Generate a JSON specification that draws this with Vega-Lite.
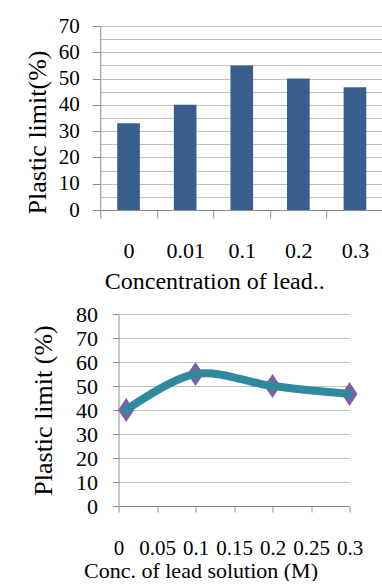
{
  "$schema": "https://vega.github.io/schema/vega-lite/v6.json",
  "background": "white",
  "padding": {"left": 24, "top": 15, "right": 0, "bottom": 0},
  "config": {
    "font": "Liberation Serif",
    "view": {"stroke": null},
    "axis": {
      "labelFont": "Liberation Serif",
      "titleFont": "Liberation Serif",
      "labelColor": "black",
      "titleColor": "black",
      "titleFontWeight": "normal",
      "domainColor": "#8c8c8c",
      "tickColor": "#8c8c8c",
      "gridColor": "#c0c0c0",
      "labelOverlap": false,
      "labelFlush": false,
      "labelBound": false
    }
  },
  "datasets": {
    "bars": [
      {"conc": "0", "pl": 33},
      {"conc": "0.01", "pl": 40},
      {"conc": "0.1", "pl": 55},
      {"conc": "0.2", "pl": 50},
      {"conc": "0.3", "pl": 46.7}
    ],
    "curve": [
      {"c": 0.01, "pl": 40},
      {"c": 0.1, "pl": 55},
      {"c": 0.2, "pl": 50},
      {"c": 0.3, "pl": 46.7}
    ]
  },
  "spacing": 10,
  "center": true,
  "vconcat": [
    {
      "width": 283,
      "height": 184,
      "data": {"name": "bars"},
      "encoding": {
        "x": {
          "field": "conc",
          "type": "nominal",
          "sort": null,
          "scale": {"paddingInner": 0, "paddingOuter": 0},
          "axis": {
            "title": "Concentration of lead..",
            "labelAngle": 0,
            "labelFontSize": 22,
            "tickBand": "extent",
            "tickSize": 8,
            "labelPadding": 22,
            "titleFontSize": 24,
            "titlePadding": 8,
            "titleX": 114,
            "grid": false
          }
        }
      },
      "layer": [
        {
          "mark": {"type": "bar", "opacity": 0, "width": {"band": 0.4}},
          "encoding": {
            "y": {
              "field": "pl",
              "type": "quantitative",
              "scale": {"domain": [0, 70], "nice": false},
              "axis": {
                "orient": "right",
                "title": null,
                "values": [5, 15, 25, 35, 45, 55, 65],
                "grid": true,
                "labels": false,
                "ticks": false,
                "domain": false
              }
            }
          }
        },
        {
          "mark": {"type": "bar", "color": "#395E8E", "width": {"band": 0.4}},
          "encoding": {
            "y": {
              "field": "pl",
              "type": "quantitative",
              "scale": {"domain": [0, 70], "nice": false},
              "axis": {
                "orient": "left",
                "title": "Plastic limit(%)",
                "values": [0, 10, 20, 30, 40, 50, 60, 70],
                "grid": true,
                "tickSize": 8,
                "labelPadding": 13,
                "labelFontSize": 21,
                "titleFontSize": 26,
                "titlePadding": 8,
                "titleY": 106
              }
            }
          }
        }
      ],
      "resolve": {"axis": {"y": "independent"}}
    },
    {
      "width": 231,
      "height": 192,
      "data": {"name": "curve"},
      "encoding": {
        "x": {
          "field": "c",
          "type": "quantitative",
          "scale": {"domain": [0, 0.3], "nice": false},
          "axis": {
            "title": "Conc. of lead solution (M)",
            "values": [0, 0.05, 0.1, 0.15, 0.2, 0.25, 0.3],
            "labelExpr": "toString(round(datum.value * 100) / 100)",
            "grid": false,
            "tickSize": 6,
            "labelPadding": 25,
            "labelFontSize": 21,
            "titleFontSize": 22,
            "titlePadding": 2,
            "titleX": 82
          }
        },
        "y": {
          "field": "pl",
          "type": "quantitative",
          "scale": {"domain": [0, 80], "nice": false},
          "axis": {
            "title": "Plastic limit (%)",
            "values": [0, 10, 20, 30, 40, 50, 60, 70, 80],
            "tickSize": 6,
            "labelPadding": 15,
            "labelFontSize": 22,
            "titleFontSize": 26,
            "titlePadding": 19
          }
        }
      },
      "layer": [
        {"mark": {"type": "point", "filled": true, "opacity": 1, "shape": "M0,-1L0.67,0L0,1L-0.67,0Z", "size": 576, "color": "#7F61A3"}},
        {"mark": {"type": "line", "interpolate": "catmull-rom", "strokeWidth": 8, "color": "#2F8A9D", "strokeCap": "round"}}
      ]
    }
  ]
}
